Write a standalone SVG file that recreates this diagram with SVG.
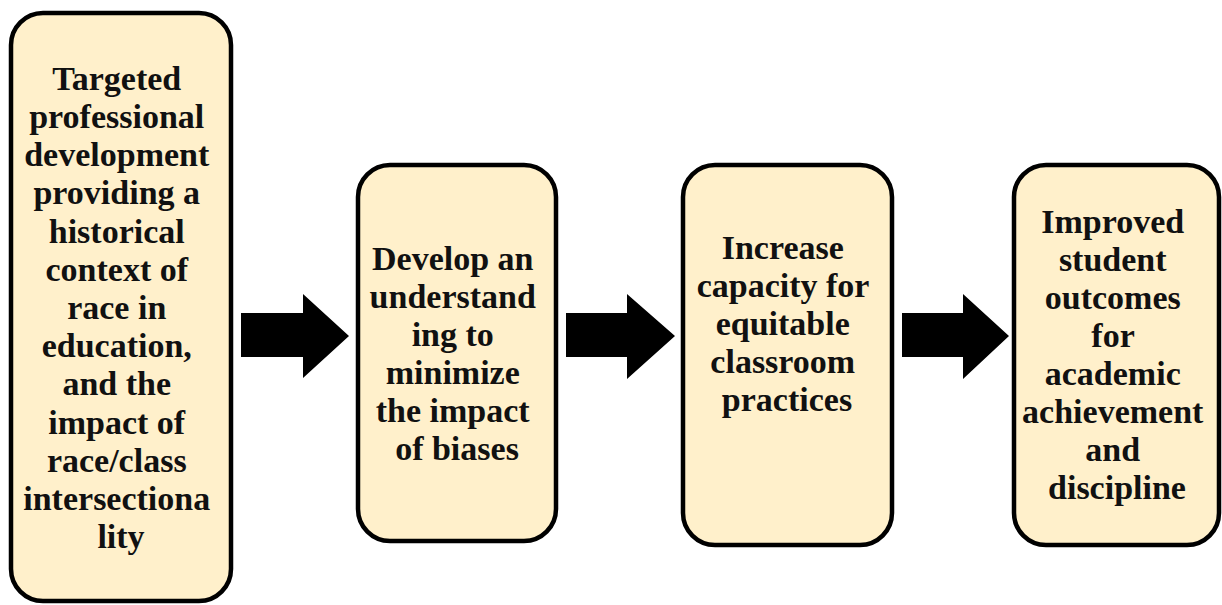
<svg xmlns="http://www.w3.org/2000/svg" width="1222" height="605" viewBox="0 0 1222 605">
  <style>
    .box { fill: #FFF0CB; stroke: #000; stroke-width: 4.5; }
    .lbl { font-weight: bold; font-size: 34px; fill: #111; text-anchor: middle; }
    .arrow { fill: #000; }
  </style>
  <rect width="1222" height="605" fill="#fff"/>

  <g id="node-pd">
    <rect class="box" x="11" y="13" width="220" height="588" rx="32"/>
    <text class="lbl" font-family="Liberation Serif">
      <tspan x="121" y="90">Targeted</tspan>
      <tspan x="121" y="128">professional</tspan>
      <tspan x="121" y="166">development</tspan>
      <tspan x="121" y="204">providing a</tspan>
      <tspan x="121" y="243">historical</tspan>
      <tspan x="121" y="281">context of</tspan>
      <tspan x="121" y="319">race in</tspan>
      <tspan x="121" y="357">education,</tspan>
      <tspan x="121" y="395">and the</tspan>
      <tspan x="121" y="434">impact of</tspan>
      <tspan x="121" y="472">race/class</tspan>
      <tspan x="121" y="510">intersectiona</tspan>
      <tspan x="121" y="548">lity</tspan>
    </text>
  </g>

  <g id="node-understanding">
    <rect class="box" x="358" y="165" width="198" height="376" rx="32"/>
    <text class="lbl" font-family="Liberation Serif">
      <tspan x="457" y="270">Develop an</tspan>
      <tspan x="457" y="308">understand</tspan>
      <tspan x="457" y="346">ing to</tspan>
      <tspan x="457" y="384">minimize</tspan>
      <tspan x="457" y="422">the impact</tspan>
      <tspan x="457" y="460">of biases</tspan>
    </text>
  </g>

  <g id="node-capacity">
    <rect class="box" x="683" y="165" width="209" height="380" rx="32"/>
    <text class="lbl" font-family="Liberation Serif">
      <tspan x="787" y="259">Increase</tspan>
      <tspan x="787" y="297">capacity for</tspan>
      <tspan x="787" y="335">equitable</tspan>
      <tspan x="787" y="373">classroom</tspan>
      <tspan x="787" y="411">practices</tspan>
    </text>
  </g>

  <g id="node-outcomes">
    <rect class="box" x="1014" y="165" width="205" height="380" rx="32"/>
    <text class="lbl" font-family="Liberation Serif">
      <tspan x="1117" y="233">Improved</tspan>
      <tspan x="1117" y="271">student</tspan>
      <tspan x="1117" y="309">outcomes</tspan>
      <tspan x="1117" y="347">for</tspan>
      <tspan x="1117" y="385">academic</tspan>
      <tspan x="1117" y="423">achievement</tspan>
      <tspan x="1117" y="461">and</tspan>
      <tspan x="1117" y="499">discipline</tspan>
    </text>
  </g>

  <g id="connectors">
    <polygon class="arrow" points="241,313 303,313 303,294 349,336 303,378 303,357 241,357"/>
    <polygon class="arrow" points="566,313 627,313 627,294 675,336 627,379 627,357 566,357"/>
    <polygon class="arrow" points="902,313 963,313 963,294 1009,336 963,379 963,357 902,357"/>
  </g>
</svg>
